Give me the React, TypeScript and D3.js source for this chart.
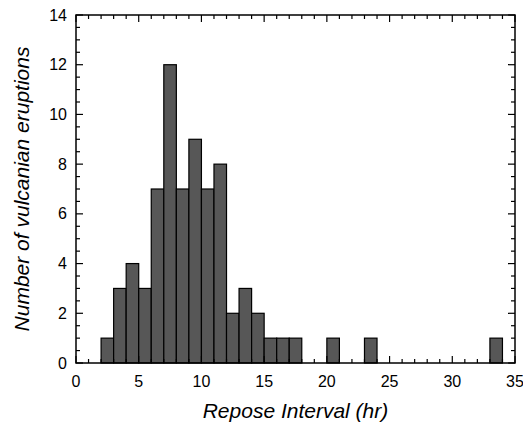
import React from 'react';
import {scaleLinear, range} from 'd3';

// histogram of repose intervals, 1 hr bins starting at 2 hr
const binStarts = range(2, 34);
const counts = [1, 3, 4, 3, 7, 12, 7, 9, 7, 8, 2, 3, 2, 1, 1, 1, 0, 0, 1, 0, 0, 1, 0, 0, 0, 0, 0, 0, 0, 0, 0, 1];
const xTicks = [0, 5, 10, 15, 20, 25, 30, 35];
const yTicks = [0, 2, 4, 6, 8, 10, 12, 14];

const W = 523, H = 427;
const margin = {t: 15, r: 8, b: 64, l: 76};

const font = 'Liberation Sans, Arial, sans-serif';

export default function App() {
	const innerW = W - margin.l - margin.r;
	const innerH = H - margin.t - margin.b;

	const x = scaleLinear().domain([0, 35]).range([0, innerW]);
	const y = scaleLinear().domain([0, 14]).range([innerH, 0]);

	const xMinor = range(0, 36, 1);
	const yMinor = range(0, 14.01, 0.5);

	return (
		<svg width={W} height={H} style={{position: 'absolute', left: 0, top: 0}}>
			<g transform={`translate(${margin.l},${margin.t})`}>
				{binStarts.map((b, i) => counts[i] > 0 &&
					<rect key={b}
						x={x(b)} y={y(counts[i])}
						width={x(b + 1) - x(b)} height={y(0) - y(counts[i])}
						fill='#575757' stroke='#000' strokeWidth={1.2}
					/>
				)}
				{/* ticks, drawn inward on all four sides */}
				{xMinor.map(v => {
					const len = v % 5 === 0 ? 7 : 4;
					return <g key={'x' + v} stroke='#000' strokeWidth={1.2}>
						<line x1={x(v)} x2={x(v)} y1={innerH} y2={innerH - len}/>
						<line x1={x(v)} x2={x(v)} y1={0} y2={len}/>
					</g>;
				})}
				{yMinor.map(v => {
					const len = v % 2 === 0 ? 7 : 4;
					return <g key={'y' + v} stroke='#000' strokeWidth={1.2}>
						<line x1={0} x2={len} y1={y(v)} y2={y(v)}/>
						<line x1={innerW} x2={innerW - len} y1={y(v)} y2={y(v)}/>
					</g>;
				})}
				<rect x={0} y={0} width={innerW} height={innerH} fill='none' stroke='#000' strokeWidth={1.5}/>
				{xTicks.map(v =>
					<text key={'xl' + v} x={x(v)} y={innerH + 24} textAnchor='middle'
						fontFamily={font} fontSize={16} fill='#000'>{v}</text>
				)}
				{yTicks.map(v =>
					<text key={'yl' + v} x={-9} y={y(v)} dy='0.35em' textAnchor='end'
						fontFamily={font} fontSize={16} fill='#000'>{v}</text>
				)}
				<text x={innerW / 2} y={innerH + 55} textAnchor='middle'
					fontFamily={font} fontSize={21} fontStyle='italic' fill='#000'>Repose Interval (hr)</text>
				<text transform={`translate(${-47},${innerH / 2}) rotate(-90)`} textAnchor='middle'
					fontFamily={font} fontSize={21} fontStyle='italic' fill='#000'>Number of vulcanian eruptions</text>
			</g>
		</svg>
	);
}
